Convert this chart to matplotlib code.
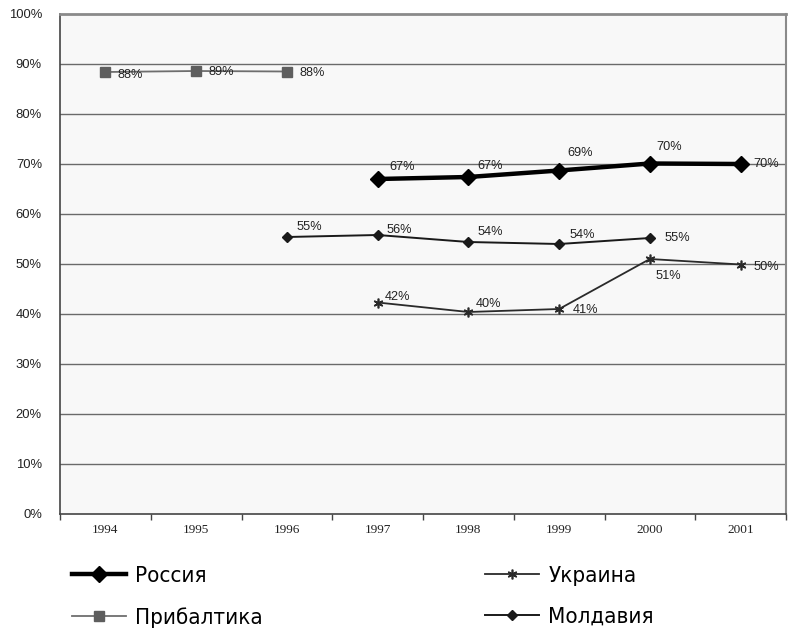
import matplotlib
matplotlib.use("Agg")
import matplotlib.pyplot as plt

years = ["1994", "1995", "1996", "1997", "1998", "1999", "2000", "2001"]

# Share values in percent; None where a series has no observation
russia = [None, None, None, 67.0, 67.4, 68.7, 70.1, 70.0]
baltics = [88.4, 88.6, 88.5, None, None, None, None, None]
ukraine = [None, None, None, 42.3, 40.4, 41.0, 51.0, 49.9]
moldova = [None, None, 55.4, 55.8, 54.4, 54.0, 55.2, None]

russia_label = "Россия"
baltics_label = "Прибалтика"
ukraine_label = "Украина"
moldova_label = "Молдавия"

yticks = [0, 10, 20, 30, 40, 50, 60, 70, 80, 90, 100]

# label offsets in pixels (dx, dy upwards) for each point's value text
offsets = {
    "russia": [None, None, None, (24, 12), (22, 11), (21, 17), (19, 17), (26, 0)],
    "baltics": [(25, -3), (25, -1), (25, -1), None, None, None, None, None],
    "ukraine": [None, None, None, (20, 6), (20, 8), (26, -1), (18, -17), (26, -2)],
    "moldova": [None, None, (22, 10), (22, 5), (22, 10), (23, 9), (27, 0), None],
}

fig = plt.figure(figsize=(7.89, 6.30), dpi=100)
W, H = 789, 630
ax = fig.add_axes([60 / W, (H - 514) / H, (786 - 60) / W, (514 - 14) / H])
ax.set_facecolor("#f8f8f8")

x = list(range(len(years)))


def pts(vals):
    xs = [i for i, v in zip(x, vals) if v is not None]
    ys = [v for v in vals if v is not None]
    return xs, ys


styles = {
    "russia": dict(color="#000000", lw=3.2, marker="D", ms=8, mfc="#000000", mec="#000000", zorder=5),
    "baltics": dict(color="#6e6e6e", lw=1.3, marker="s", ms=6.5, mfc="#5e5e5e", mec="#5e5e5e", zorder=4),
    "ukraine": dict(color="#2a2a2a", lw=1.3, marker=(6, 2, 0), ms=7, mfc="#2a2a2a", mec="#2a2a2a", mew=1.2, zorder=4),
    "moldova": dict(color="#1a1a1a", lw=1.4, marker="D", ms=4.6, mfc="#1a1a1a", mec="#1a1a1a", zorder=4),
}
series = {"russia": russia, "baltics": baltics, "ukraine": ukraine, "moldova": moldova}
labels = {"russia": russia_label, "baltics": baltics_label, "ukraine": ukraine_label, "moldova": moldova_label}

lines = {}
for key, vals in series.items():
    xs, ys = pts(vals)
    (lines[key],) = ax.plot(xs, ys, label=labels[key], **styles[key])
    for i, v in enumerate(vals):
        if v is None:
            continue
        dx, dy = offsets[key][i]
        ax.annotate(f"{round(v):d}%", (i, v), xytext=(dx, dy), textcoords="offset pixels",
                    ha="center", va="center", fontsize=9.2, family="Liberation Sans",
                    color="#222222", zorder=6)

ax.set_xlim(-0.5, len(years) - 0.5)
ax.set_ylim(0, 100)
ax.set_yticks(yticks)
ax.set_yticklabels([f"{t}%" for t in yticks], fontsize=9.4, family="Liberation Sans", color="#222222")
ax.tick_params(axis="y", length=0, pad=13)

ax.set_xticks(x)
ax.set_xticklabels(years, fontsize=9.5, family="Liberation Serif", color="#222222")
ax.set_xticks([i - 0.5 for i in range(len(years) + 1)], minor=True)
ax.tick_params(axis="x", which="major", length=0, pad=7)
ax.tick_params(axis="x", which="minor", length=4, color="#444444", width=1)

for t in yticks[1:-1]:
    ax.axhline(t, color="#6a6a6a", lw=1.0, zorder=1)

ax.spines["left"].set_color("#444444")
ax.spines["left"].set_linewidth(1.2)
ax.spines["bottom"].set_color("#444444")
ax.spines["bottom"].set_linewidth(1.2)
ax.spines["top"].set_color("#8a8a8a")
ax.spines["top"].set_linewidth(2)
ax.spines["right"].set_color("#8a8a8a")
ax.spines["right"].set_linewidth(1.5)

legend_font = {"family": ["Liberation Sans Narrow", "DejaVu Sans"], "size": 16, "stretch": "condensed"}
common = dict(loc="upper left", frameon=False, prop=legend_font, handlelength=2.45,
              handletextpad=0.4, labelspacing=0.95, borderaxespad=0, borderpad=0)
leg1 = fig.legend([lines["russia"], lines["baltics"]], [russia_label, baltics_label],
                  bbox_to_anchor=(72 / W, 1 - 566 / H), **common)
leg2 = fig.legend([lines["ukraine"], lines["moldova"]], [ukraine_label, moldova_label],
                  bbox_to_anchor=(485 / W, 1 - 566 / H), **common)

fig.savefig("out.png", dpi=100, facecolor="white")
